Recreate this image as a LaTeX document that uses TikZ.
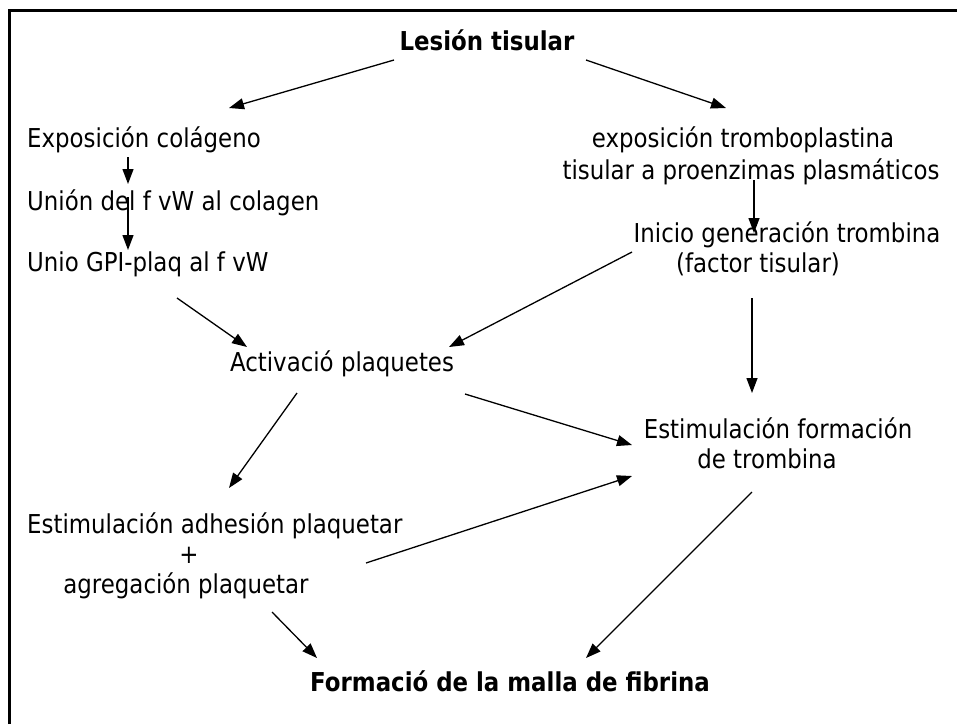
\documentclass[tikz,border=0pt]{standalone}
\usepackage{fontspec}
\setmainfont{DejaVu Sans}[FakeStretch=0.88]
\usetikzlibrary{arrows.meta}
\tikzset{
  txt/.style={inner sep=0pt, font=\fontsize{26}{31}\selectfont},
  btxt/.style={inner sep=0pt, font=\fontsize{26}{31}\selectfont\bfseries},
  arr/.style={line width=1.3pt, -{Triangle[length=15pt,width=11pt]}},
  frame/.style={line width=3pt}
}
\begin{document}
\begin{tikzpicture}[x=1pt,y=-1pt]
\useasboundingbox (0,0) rectangle (957,724);
\draw[frame] (9,724) -- (9,10) -- (957,10);
% nodes
\node[btxt, anchor=base] (les) at (487,50) {Lesión tisular};
\node[txt, anchor=base west] (exp) at (27,147) {Exposición colágeno};
\node[txt, anchor=base] (tromba) at (743,147) {exposición tromboplastina};
\node[txt, anchor=base] (trombb) at (751,179) {tisular a proenzimas plasmáticos};
\node[txt, anchor=base west] (union) at (27,210) {Unión del f vW al colagen};
\node[txt, anchor=base] (inicio) at (787,242) {Inicio generación trombina};
\node[txt, anchor=base] (factor) at (758,272) {(factor tisular)};
\node[txt, anchor=base west] (unio) at (27,271) {Unio GPI-plaq al f vW};
\node[txt, anchor=base] (act) at (342,371) {Activació plaquetes};
\node[txt, anchor=base] (estfa) at (778,438) {Estimulación formación};
\node[txt, anchor=base] (estfb) at (767,468) {de trombina};
\node[txt, anchor=base west] (adh) at (27,533) {Estimulación adhesión plaquetar};
\node[txt, anchor=base] (plus) at (189,563) {+};
\node[txt, anchor=base] (agr) at (186,593) {agregación plaquetar};
\node[btxt, anchor=base] (malla) at (510,691) {Formació de la malla de fibrina};
% connectors
\draw[arr] ([shift={(-93,10)}]les.base) -- ([shift={(202,-39)}]exp.base west);
\draw[arr] ([shift={(99,10)}]les.base) -- ([shift={(-17,-39)}]tromba.base);
\draw[arr] ([shift={(101,10)}]exp.base west) -- ([shift={(101,-26)}]union.base west);
\draw[arr] ([shift={(101,-13)}]union.base west) -- ([shift={(101,-21)}]unio.base west);
\draw[arr] ([shift={(3,1)}]trombb.base) -- ([shift={(-33,-9)}]inicio.base);
\draw[arr] ([shift={(-155,10)}]inicio.base) -- ([shift={(107,-24)}]act.base);
\draw[arr] ([shift={(150,27)}]unio.base west) -- ([shift={(-95,-24)}]act.base);
\draw[arr] ([shift={(-6,26)}]factor.base) -- ([shift={(-26,-45)}]estfa.base);
\draw[arr] ([shift={(-45,22)}]act.base) -- ([shift={(202,-45)}]adh.base west);
\draw[arr] ([shift={(123,23)}]act.base) -- ([shift={(-146,7)}]estfa.base);
\draw[arr] ([shift={(180,-30)}]agr.base) -- ([shift={(-135,8)}]estfb.base);
\draw[arr] ([shift={(-15,24)}]estfb.base) -- ([shift={(76,-33)}]malla.base);
\draw[arr] ([shift={(86,19)}]agr.base) -- ([shift={(-193,-33)}]malla.base);
\end{tikzpicture}
\end{document}
